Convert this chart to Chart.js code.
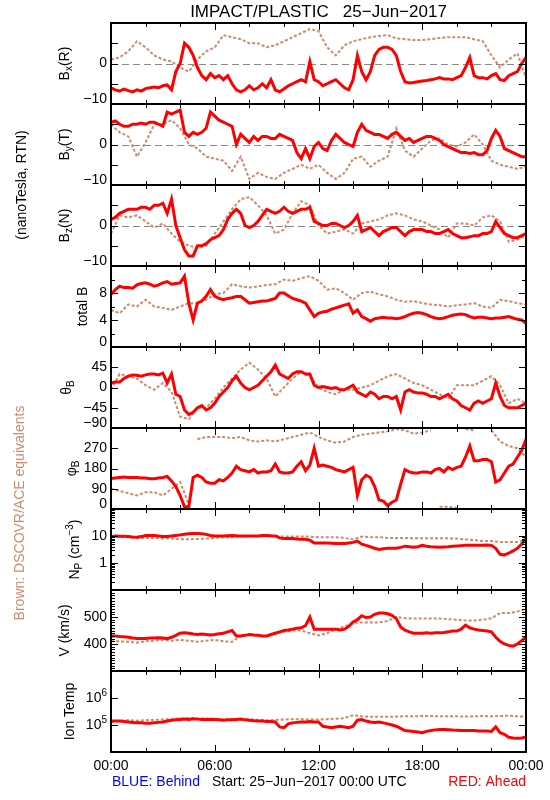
<!DOCTYPE html>
<html lang="en">
<head>
<meta charset="UTF-8">
<title>IMPACT/PLASTIC 25-Jun-2017</title>
<style>
  html, body { margin: 0; padding: 0; background: #fff; }
  #chart { display: block; }
</style>
</head>
<body>
<canvas id="chart" width="550" height="800"></canvas>
<script src="https://cdn.jsdelivr.net/npm/chart.js"></script>
<script>
const RED_STEP = 0.25;
const BROWN_STEP = 0.5;

const hourTicks = ['00:00', '06:00', '12:00', '18:00', '00:00'];

// Bx (R), nT
const bxRed = [
  -6, -6.5, -6.8, -6.3, -6.7, -7, -6.5, -6.8,
  -6.2, -6, -5.8, -6, -5.5, -5.3, -6.5, -2,
  0, 5, 4, 2, -1, -3, -4, -2.5,
  -3.5, -3, -4, -3, -5, -6.5, -7, -6.5,
  -5.5, -6.5, -6, -5, -6, -4, -6.5, -7,
  -6.3, -5.5, -5, -4.5, -4, -4.5, 0.5, -4,
  -4.5, -5.5, -5, -4.5, -4, -5, -6, -6.5,
  -4, 2, -2, -4, -2, 2, 3.5, 4,
  4, 3.5, 2, -2, -4.5, -4.8, -4.7, -4.5,
  -4.3, -4.2, -4, -3.8, -3.5, -3.8, -3.8, -4,
  -3.5, -3, -1, 1.5, -3, -3.5, -3.5, -3.8,
  -3, -2.5, -4, -4.2, -3, -2.5, -2, 0,
  1.5
];
const bxBrown = [
  1, 1.5, 3, 5.5,
  4, 2, 1, 0.5,
  -1, -2, 1, 3,
  4, 7, 6.5, 6,
  5, 5, 4, 4.5,
  5.5, 6.5, 7.5, 8.5,
  8, 4, 2, 4.5,
  5.5, 6, 6.5, 6.8,
  7, 6.2, 6, 5.8,
  5.8, 6, 6.3, 6.5,
  6.5, 6.5, 6, 5.5,
  2, -1, 1, 2.5,
  -3.5
];

// By (T), nT
const byRed = [
  5.5, 5.8, 5, 4.5, 4.5, 5, 5, 5.3,
  5, 5.5, 5.5, 5, 4.5, 8, 7.5, 8,
  8.5, 3, 2, 3, 2.5, 3, 4, 8,
  7, 6, 5.5, 5, 4.5, 0, 2.5, 1.5,
  0.5, 2, 1, 2, 2, 1.5, 1.5, 2.5,
  2, 1.5, 1, -2, -3.5, -1, -3.5, -0.5,
  0.5, -1, -1.5, 1, 2.5, 1.5, 0.5, 0,
  -0.5, 3, 5, 3.5, 3, 2.5, 2.5, 2,
  1.5, 2.5, 3, 2, 1, 1.5, 0.5, 1,
  1.5, 2, 2, 1.5, 1, 0, -0.5, -1,
  -1.5, -2, -2, -2.2, -2, -2.5, -2.5, -1.5,
  1.5, 3.5, 2, -1, -1.5, -2, -2.5, -3,
  -3
];
const byBrown = [
  5, 3, 2, -3,
  0.5, 5, 5, 6,
  4, 0, -1, -3,
  -3.5, -4, -6.5, -3,
  -8.5, -7, -8, -8.5,
  -7, -6, -5, -6,
  -5, -7, -8.5, -7,
  -3.5, -3, -5.5, -4,
  -3, 4, -1.5, -3,
  -1, 1, 1.5, 0,
  -0.5, 0.5, 2.5, 0,
  -4, -5, -5.5, -6,
  -5.5
];

// Bz (N), nT
const bzRed = [
  1.5, 2, 3, 3.5, 4, 4, 4, 4.5,
  4.5, 4, 5, 5, 5.5, 3, 6.5, 0,
  -3, -6, -7.5, -7.5, -5, -5, -4.5, -3.5,
  -3, -2.5, -1, 1.5, 3, 4, 3, 0,
  -0.5, 0, 1, 2.5, 4, 3.5, 3, 3.5,
  4.5, 3.5, 3, 3.5, 4, 4, 4.5, 1,
  0.5, 0, 0, 0.5, 0.5, 0, -0.5, 0,
  1, 2.5, -1.5, -1, -0.5, -1.5, -2.5, -1.5,
  -1, -0.5, -0.5, -1.5, -2.5, -1.5, -1, -1,
  -1, -1.5, -1.5, -2, -2, -1.5, -1, -2,
  -2.5, -3, -3, -2.8, -2.5, -2.5, -2, -2,
  -1.5, 1, -0.5, -2, -2.5, -3, -3, -2.5,
  -2
];
const bzBrown = [
  -2, 2.5, 2, 2.5,
  1, -0.5, 0.5, -2,
  -4, -5, -5.5, -5,
  -2, 1, 4, 6.5,
  7, 5, 2.5, -2,
  -1, 3, 6, 5,
  0, -2, -1.5, -1,
  -2, 0.5, 1, 1.5,
  2.5, 3, 2.5, 1.5,
  1, 0, -1, -3,
  0.5, 0.5, 0, 2,
  2.5, 1, -4, -3.5,
  -2.5
];

// total B, nT
const btRed = [
  7.8, 8.5, 9, 8.8, 8.8, 8.7, 9.2, 9.4,
  9.5, 9.3, 9, 9.2, 9.5, 9.7, 9.3, 9.4,
  9.5, 10.5, 6.5, 4, 6.5, 6.8, 7.5, 8.5,
  7.5, 7.2, 7, 7.2, 7.3, 7.5, 7.5, 7,
  6.5, 6.6, 6.7, 6.8, 6.8, 7, 7.2, 8,
  8, 7.6, 7.2, 7, 6.8, 6.5, 5.5, 4.5,
  5, 5.2, 5.3, 5.6, 5.8, 6, 6.2, 6.4,
  5, 5.5, 4.5, 4.2, 3.8, 4.2, 4.3, 4.4,
  4.3, 4.3, 4.2, 4.3, 4.5, 4.8, 5, 5.1,
  5, 4.8, 4.5, 4.3, 4.2, 4.3, 4.5, 4.7,
  4.8, 4.9, 4.8, 4.5, 4.3, 4.4, 4.4, 4.3,
  4.2, 4.3, 4.3, 4.4, 4.5, 4.3, 4.1, 4,
  3.5
];
const btBrown = [
  5.5, 5, 6.3, 6,
  7, 6, 5.8, 5.5,
  6, 6.5, 6.5, 7,
  7.8, 8, 9.3, 9,
  8.8, 9, 9.2, 9.3,
  10, 9.8, 10.2, 10.5,
  9.8, 8.5, 8.7, 8,
  7, 8, 8.2, 7.8,
  7.5, 7, 6.7, 6.8,
  6.5, 6.3, 6.2, 6,
  6.2, 6.3, 6.5, 6,
  5.8, 7, 6.8, 6.5,
  6.3
];

// theta B, degrees
const thRed = [
  10, 12, 12, 20, 25, 28, 27, 25,
  28, 30, 30, 28, 32, 10, 30, -15,
  -20, -50, -60, -55, -45, -40, -50, -45,
  -35, -20, -10, 0, 15, 25, 10, 0,
  -5, 0, 5, 15, 25, 35, 50, 30,
  25, 20, 30, 35, 35, 30, 30, 5,
  0, 2, 0, -2, 0, -5, -5, 0,
  5, -10, -15, -20, -10, -15, -25, -20,
  -20, -25, -20, -50, -10, -5, -10, -12,
  -12, -15, -20, -20, -25, -20, -15, -25,
  -30, -40, -45, -50, -35, -30, -35, -30,
  -25, 10, -20, -40, -45, -45, -45, -40,
  -35
];
const thBrown = [
  -5, 30, 25, 20,
  5, -5, 10, -10,
  -65, -70, -45, -45,
  -25, 0, 20, 40,
  55, 40, 20, -20,
  0, 20, 35, 25,
  0, -10, -15, -5,
  -5, 0, 5, 15,
  25, 30, 20, 10,
  5, -5, -15, -25,
  5, 5, 5, 15,
  25, 5, -35, -25,
  -35
];

// phi B, degrees
const phRed = [
  135, 138, 140, 142, 140, 140, 140, 138,
  138, 135, 135, 138, 140, 145, 125, 100,
  60, 10, 10, 140, 150, 140, 120, 115,
  115, 130, 125, 140, 160, 190, 175, 170,
  165, 175, 160, 165, 165, 170, 200, 165,
  160, 160, 165, 190, 210, 170, 195, 270,
  190, 195, 190, 185, 175, 170, 165, 175,
  185, 60, 130, 150, 140, 100, 40, 35,
  15, 30, 40, 110, 175, 165, 160, 160,
  165, 165, 160, 175, 180, 165, 185, 175,
  185, 190, 230, 280, 215, 215, 220, 220,
  210, 120, 130, 160, 190, 200, 230, 260,
  310
];
const phBrown = [
  90, 80, 70, 60,
  75, 75, 60, 90,
  120, 20, 310, 320,
  320, 320, 315, 320,
  305, 300, 305, 300,
  310, 320, 330, 340,
  320, 305, 295, 300,
  320, 330, 335, 340,
  345, 355, 350, 335,
  340, 350, 10, 10,
  5, 355, 350, 10,
  350, 300, 280, 270,
  230
];

// proton density, cm^-3
const npRed = [
  9.5, 10, 9.8, 9.8, 9.5, 9.2, 9, 9.5,
  10.5, 10.5, 10.5, 10, 9.5, 9.5, 10, 10.5,
  11, 11.5, 12, 12.5, 12.5, 12, 11.5, 10.5,
  10, 10, 10, 10.3, 10.5, 10.2, 10, 10,
  10, 10, 10, 10.5, 10.5, 10.2, 10, 8.5,
  8, 8, 8, 7.8, 7.5, 7.5, 7, 5.5,
  5.5, 5.5, 5.5, 5.4, 5.3, 5.3, 5.3, 5.5,
  5.8, 6.5, 5, 4.5, 4, 3.5, 3.2, 3.4,
  3.5, 3.5, 3.5, 3.8, 4.2, 4, 3.8, 4,
  4.5, 4.2, 4, 3.9, 3.8, 3.9, 4, 4.2,
  4.3, 4.4, 4.5, 4.5, 4.5, 4.5, 4.5, 4.6,
  4.5, 3.5, 2.1, 2, 2.3, 2.8, 3.5, 5,
  8
];
const npBrown = [
  10, 9.5, 9, 8.5,
  8.5, 8.5, 8, 8,
  7.5, 7.5, 7.8, 8,
  8.5, 9, 9, 9.5,
  10, 10, 10, 10,
  9.5, 9.5, 9.5, 9.5,
  9, 9, 9, 8.5,
  7.5, 9.5, 9, 9,
  8.5, 8.5, 8.5, 8.3,
  8.3, 8.3, 8.3, 8.2,
  8, 7.5, 7, 6.5,
  6.5, 6, 6, 6,
  7
];

// bulk speed, km/s
const vRed = [
  430, 430, 428, 427, 425, 422, 420, 420,
  420, 422, 422, 423, 422, 420, 425, 432,
  440, 442, 440, 437, 435, 437, 435, 433,
  435, 438, 440, 445, 450, 430, 430, 432,
  435, 433, 432, 430, 430, 435, 440, 445,
  450, 452, 455, 458, 460, 468, 500, 455,
  455, 455, 455, 455, 455, 452, 455, 465,
  482, 490, 505, 498, 500, 510, 515, 515,
  512, 506, 494, 463, 451, 445, 440, 440,
  440, 442, 440, 442, 442, 443, 445, 448,
  448, 455, 470, 460, 455, 452, 450, 448,
  445, 425, 410, 400, 395, 392, 400, 412,
  428
];
const vBrown = [
  410, 410, 408, 405,
  410, 412, 415, 412,
  415, 412, 408, 412,
  415, 410, 408, 430,
  435, 430, 430, 440,
  445, 450, 450, 440,
  432, 440, 455, 465,
  478, 480, 480, 480,
  485, 500, 496, 494,
  494, 494, 494, 492,
  490, 487, 487, 490,
  495, 515, 515, 520,
  530
];

// ion temperature, K
const tiRed = [
  1.4e5, 1.4e5, 1.4e5, 1.35e5, 1.3e5, 1.25e5, 1.2e5, 1.2e5,
  1.15e5, 1.15e5, 1.2e5, 1.25e5, 1.3e5, 1.4e5, 1.5e5, 1.55e5,
  1.6e5, 1.65e5, 1.6e5, 1.7e5, 1.65e5, 1.6e5, 1.6e5, 1.6e5,
  1.6e5, 1.55e5, 1.5e5, 1.55e5, 1.55e5, 1.6e5, 1.65e5, 1.55e5,
  1.5e5, 1.45e5, 1.4e5, 1.4e5, 1.35e5, 1.35e5, 1.3e5, 0.85e5,
  0.8e5, 1.1e5, 1.2e5, 1.25e5, 1.3e5, 1.3e5, 1.35e5, 1.3e5,
  1.3e5, 0.9e5, 0.85e5, 0.8e5, 0.85e5, 0.9e5, 0.85e5, 0.8e5,
  0.9e5, 1.5e5, 1.6e5, 1.4e5, 1.3e5, 1.25e5, 1.3e5, 1.2e5,
  1.1e5, 1e5, 0.9e5, 0.75e5, 0.62e5, 0.6e5, 0.58e5, 0.55e5,
  0.52e5, 0.58e5, 0.63e5, 0.66e5, 0.68e5, 0.68e5, 0.67e5, 0.65e5,
  0.64e5, 0.63e5, 0.62e5, 0.63e5, 0.62e5, 0.6e5, 0.6e5, 0.6e5,
  0.58e5, 0.85e5, 0.52e5, 0.45e5, 0.35e5, 0.33e5, 0.32e5, 0.33e5,
  0.36e5
];
const tiBrown = [
  1.3e5, 1.45e5, 1.5e5, 1.45e5,
  1.5e5, 1.55e5, 1.6e5, 1.65e5,
  1.75e5, 1.8e5, 1.75e5, 1.75e5,
  1.7e5, 1.6e5, 1.65e5, 1.6e5,
  1.65e5, 1.55e5, 1.5e5, 1.55e5,
  1.6e5, 1.65e5, 1.65e5, 1.6e5,
  1.6e5, 1.65e5, 1.7e5, 1.8e5,
  2.3e5, 2.1e5, 2e5, 2e5,
  2e5, 2.05e5, 2.1e5, 2.1e5,
  2.15e5, 2.15e5, 2.1e5, 2.1e5,
  2.1e5, 2.05e5, 2.1e5, 2.15e5,
  2.1e5, 2.15e5, 2.2e5, 2.1e5,
  2.05e5
];

// tick values per panel
const bLabels = [-10, 0];
const bMajor = [-5, 0, 5];
const btLabels = [0, 4, 8];
const angLabels = [-90, -45, 0, 45];
const phLabels = [0, 90, 180, 270];
const npLabels = [1, 10];
const vLabels = [400, 500];
const tiLabels = [1e5, 1e6];

const npMinor = [];
[0.1, 1, 10].forEach(d => { for (let k = 2; k <= 9; k++) npMinor.push(k * d); });
const vMinor = [];
for (let v = 310; v < 600; v += 10) if (v % 100) vMinor.push(v);

const RED = '#ff0000';
const BROWN = '#cf8a6c';
const FONT = '"Liberation Sans", Arial, sans-serif';
const BASE = '14px ' + FONT;
const SMALL = '10px ' + FONT;

const panels = [
  { id: 'bx', red: bxRed, brown: bxBrown, min: -10, max: 10, labels: bLabels, major: bMajor, minor: [], zero: true,
    title: [['B'], ['x', 'sub'], ['(R)']], titleX: 65 },
  { id: 'by', red: byRed, brown: byBrown, min: -10, max: 10, labels: bLabels, major: bMajor, minor: [], zero: true,
    title: [['B'], ['y', 'sub'], ['(T)']], titleX: 65 },
  { id: 'bz', red: bzRed, brown: bzBrown, min: -10, max: 10, labels: bLabels, major: bMajor, minor: [], zero: true,
    title: [['B'], ['z', 'sub'], ['(N)']], titleX: 65 },
  { id: 'bt', red: btRed, brown: btBrown, min: 0, max: 12, labels: btLabels, major: [4, 8], minor: [2, 6, 10],
    title: [['total B']], titleX: 83 },
  { id: 'th', red: thRed, brown: thBrown, min: -90, max: 90, labels: angLabels, major: [-45, 0, 45], minor: [],
    title: [['θ'], ['B', 'sub']], titleX: 67 },
  { id: 'ph', red: phRed, brown: phBrown, min: 0, max: 360, labels: phLabels, major: [90, 180, 270], minor: [], wrap: true,
    title: [['φ'], ['B', 'sub']], titleX: 72 },
  { id: 'np', red: npRed, brown: npBrown, log: true, min: 0.1, max: 100, labels: npLabels, major: [1, 10], minor: npMinor,
    title: [['N'], ['P', 'sub'], [' (cm'], ['−3', 'sup'], [')']], titleX: 75 },
  { id: 'v', red: vRed, brown: vBrown, min: 300, max: 600, labels: vLabels, major: [400, 500], minor: vMinor,
    title: [['V (km/s)']], titleX: 65 },
  { id: 'ti', red: tiRed, brown: tiBrown, log: true, min: 1e4, max: 1e7, labels: tiLabels, major: [1e5, 1e6], minor: [],
    fmt: v => [['10'], [String(Math.round(Math.log10(v))), 'sup']],
    title: [['Ion Temp']], titleX: 70 }
];

function series(values, step) {
  return values.map((v, i) => ({ x: i * step, y: v }));
}

// hide the jump when the angle wraps round 0/360
const wrapSegment = {
  borderColor: c => Math.abs(c.p1.parsed.y - c.p0.parsed.y) > 200 ? 'rgba(0,0,0,0)' : undefined
};

const datasets = [];
const scales = {
  x: {
    type: 'linear', position: 'bottom', min: 0, max: 24,
    grid: { display: false, drawTicks: false },
    border: { display: false },
    ticks: {
      stepSize: 6, padding: 6, color: '#000', maxRotation: 0, autoSkip: false,
      font: { family: 'Liberation Sans', size: 14 },
      callback: v => hourTicks[v / 6]
    },
    afterFit: s => { s.height = 48; }
  }
};

panels.forEach((p, i) => {
  scales[p.id] = {
    type: p.log ? 'logarithmic' : 'linear',
    min: p.min, max: p.max,
    position: 'left', stack: 'panels', stackWeight: 1, weight: panels.length - i,
    grid: { display: false, drawTicks: false },
    border: { display: false },
    ticks: { display: false },
    afterFit: s => { s.width = 111; }
  };
  datasets.push({
    data: series(p.red, RED_STEP), yAxisID: p.id, xAxisID: 'x',
    borderColor: RED, borderWidth: 3, order: 1,
    segment: p.wrap ? wrapSegment : undefined
  });
  datasets.push({
    data: series(p.brown, BROWN_STEP), yAxisID: p.id, xAxisID: 'x',
    borderColor: BROWN, borderWidth: 2, borderDash: [3, 2], order: 2,
    segment: p.wrap ? wrapSegment : undefined
  });
});

function richWidth(ctx, parts) {
  let w = 0;
  parts.forEach(([t, mode]) => { ctx.font = mode ? SMALL : BASE; w += ctx.measureText(t).width; });
  return w;
}

function drawRich(ctx, parts, x, y, align) {
  const w = richWidth(ctx, parts);
  let cx = align === 'right' ? x - w : align === 'center' ? x - w / 2 : x;
  ctx.textAlign = 'left';
  ctx.textBaseline = 'middle';
  parts.forEach(([t, mode]) => {
    ctx.font = mode ? SMALL : BASE;
    const dy = mode === 'sub' ? 4 : mode === 'sup' ? -5 : 0;
    ctx.fillText(t, cx, y + dy);
    cx += ctx.measureText(t).width;
  });
}

function drawRotated(ctx, parts, x, y, color) {
  ctx.save();
  ctx.fillStyle = color;
  ctx.translate(x, y);
  ctx.rotate(-Math.PI / 2);
  drawRich(ctx, parts, 0, 0, 'center');
  ctx.restore();
}

function fmtNum(v) {
  return v < 0 ? '−' + Math.abs(v) : String(v);
}

const decor = {
  id: 'decor',
  beforeDatasetsDraw(chart) {
    const ctx = chart.ctx, a = chart.chartArea;
    ctx.save();
    ctx.strokeStyle = '#888';
    ctx.lineWidth = 1;
    ctx.setLineDash([7, 4]);
    panels.forEach(p => {
      if (!p.zero) return;
      const y = Math.round(chart.scales[p.id].getPixelForValue(0)) + 0.5;
      ctx.beginPath(); ctx.moveTo(a.left, y); ctx.lineTo(a.right, y); ctx.stroke();
    });
    ctx.restore();
  },
  afterDatasetsDraw(chart) {
    const ctx = chart.ctx, a = chart.chartArea, xs = chart.scales.x;
    ctx.save();
    ctx.strokeStyle = '#000';
    ctx.fillStyle = '#000';
    ctx.lineWidth = 1;
    panels.forEach(p => {
      const s = chart.scales[p.id];
      const top = Math.round(s.top), bottom = Math.round(s.bottom);
      // y tick marks, both sides, pointing inwards
      const yTick = (v, len) => {
        const y = Math.round(s.getPixelForValue(v)) + 0.5;
        ctx.beginPath();
        ctx.moveTo(a.left, y); ctx.lineTo(a.left + len, y);
        ctx.moveTo(a.right, y); ctx.lineTo(a.right - len, y);
        ctx.stroke();
      };
      p.major.forEach(v => yTick(v, 7));
      p.minor.forEach(v => yTick(v, 4));
      // x tick marks on top and bottom of every panel
      for (let h = 2; h < 24; h += 2) {
        const x = Math.round(xs.getPixelForValue(h)) + 0.5;
        const len = h % 6 === 0 ? 7 : 4;
        ctx.beginPath();
        ctx.moveTo(x, top); ctx.lineTo(x, top + len);
        ctx.moveTo(x, bottom); ctx.lineTo(x, bottom - len);
        ctx.stroke();
      }
      // tick labels
      p.labels.forEach(v => {
        let y = s.getPixelForValue(v);
        if (v === p.min) y -= 5;
        const parts = p.fmt ? p.fmt(v) : [[fmtNum(v)]];
        drawRich(ctx, parts, a.left - 4, y, 'right');
      });
      // axis title
      drawRotated(ctx, p.title, p.titleX, (s.top + s.bottom) / 2, '#000');
    });
    // panel frames
    ctx.lineWidth = 2;
    panels.forEach(p => {
      const s = chart.scales[p.id];
      ctx.strokeRect(a.left, Math.round(s.top), a.right - a.left, Math.round(s.bottom) - Math.round(s.top));
    });
    ctx.restore();
  },
  afterDraw(chart) {
    const ctx = chart.ctx, a = chart.chartArea;
    ctx.save();
    ctx.textBaseline = 'middle';
    ctx.fillStyle = '#000';
    ctx.font = '17px ' + FONT;
    ctx.textAlign = 'center';
    ctx.fillText('IMPACT/PLASTIC   25−Jun−2017', (a.left + a.right) / 2, 12);
    ctx.font = BASE;
    ctx.textAlign = 'left';
    ctx.fillStyle = '#0000ff';
    ctx.fillText('BLUE: Behind', 112, 782);
    ctx.fillStyle = '#000';
    ctx.fillText('Start: 25−Jun−2017 00:00 UTC', 212, 782);
    ctx.textAlign = 'right';
    ctx.fillStyle = RED;
    ctx.fillText('RED: Ahead', 526, 782);
    ctx.restore();
    drawRotated(ctx, [['(nanoTesla, RTN)']], 22, 185, '#000');
    drawRotated(ctx, [['Brown: DSCOVR/ACE equivalents']], 20, 513, BROWN);
  }
};

new Chart(document.getElementById('chart'), {
  type: 'line',
  data: { datasets },
  options: {
    responsive: false,
    animation: false,
    devicePixelRatio: 1,
    layout: { padding: { top: 23, right: 24, left: 0, bottom: 0 } },
    elements: { point: { radius: 0 }, line: { tension: 0 } },
    plugins: { legend: { display: false }, tooltip: { enabled: false }, title: { display: false } },
    scales
  },
  plugins: [decor]
});
</script>
</body>
</html>
